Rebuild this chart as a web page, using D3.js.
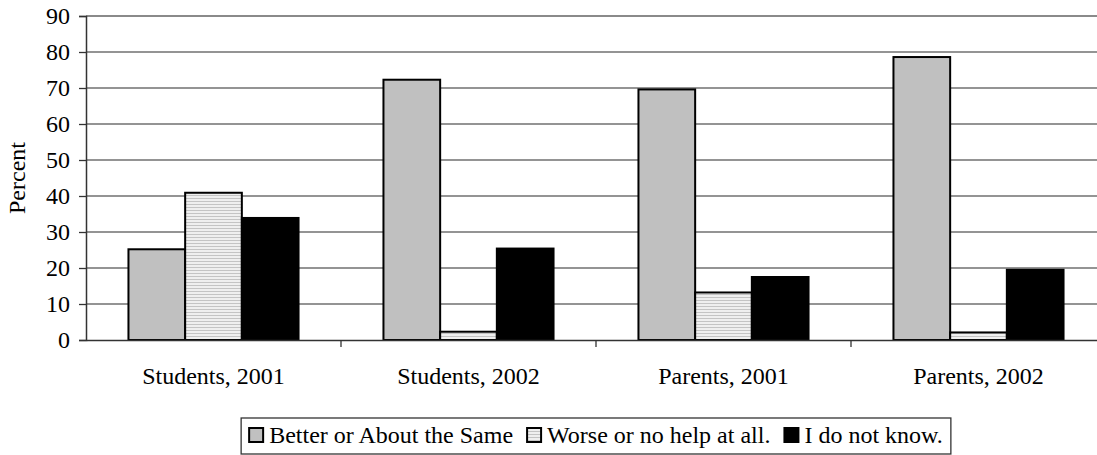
<!DOCTYPE html>
<html>
<head>
<meta charset="utf-8">
<script src="https://cdn.jsdelivr.net/npm/d3@7"></script>
<style>
  html, body { margin: 0; padding: 0; background: #fff; }
  svg { display: block; }
  svg text { font-family: 'Liberation Serif', 'Times New Roman', serif; }
</style>
</head>
<body>
<svg id="chart" width="1097" height="455"></svg>
<script>
// Survey groups along the x axis
const categories = ["Students, 2001", "Students, 2002", "Parents, 2001", "Parents, 2002"];
// Response series (percent)
const seriesNames = ["Better or About the Same", "Worse or no help at all.", "I do not know."];
const betterValues = [25.2, 72.3, 69.6, 78.6];
const worseValues = [40.9, 2.3, 13.2, 2.1];
const unknownValues = [33.9, 25.4, 17.5, 19.5];
const yTicks = [0, 10, 20, 30, 40, 50, 60, 70, 80, 90];

const seriesValues = [betterValues, worseValues, unknownValues];

const svg = d3.select("#chart");
const fontSize = 24;
const fontFamily = "'Liberation Serif', 'Times New Roman', serif";

const plot = { left: 86, right: 1106, top: 16, bottom: 340 };

const x = d3.scaleBand().domain(categories).range([plot.left, plot.right]).paddingInner(0).paddingOuter(0);
const groupWidth = x.bandwidth() * 0.667;
const xs = d3.scaleBand().domain(d3.range(seriesNames.length)).range([0, groupWidth]).padding(0);
const y = d3.scaleLinear().domain([0, 90]).range([plot.bottom, plot.top]);

// Horizontal stripe fill for the middle series
const defs = svg.append("defs");
const pat = defs.append("pattern")
  .attr("id", "stripes").attr("patternUnits", "userSpaceOnUse")
  .attr("width", 6).attr("height", 3);
pat.append("rect").attr("width", 6).attr("height", 3).attr("fill", "#efefef");
pat.append("rect").attr("y", 0).attr("width", 6).attr("height", 1).attr("fill", "#c4c4c4");

const fills = ["#c0c0c0", "url(#stripes)", "#000000"];

// Gridlines
svg.append("g")
  .selectAll("line")
  .data(yTicks.filter(t => t > 0))
  .join("line")
  .attr("x1", plot.left).attr("x2", plot.right)
  .attr("y1", d => y(d)).attr("y2", d => y(d))
  .attr("stroke", d => d === 90 ? "#8a8a8a" : "#2a2a2a")
  .attr("stroke-width", d => d === 90 ? 2 : 1.2);

// Bars
const groups = svg.append("g")
  .selectAll("g")
  .data(categories)
  .join("g")
  .attr("transform", d => `translate(${x(d) + (x.bandwidth() - groupWidth) / 2},0)`);

groups.selectAll("rect")
  .data((c, i) => seriesValues.map((vals, s) => ({ s, v: vals[i] })))
  .join("rect")
  .attr("x", d => xs(d.s))
  .attr("width", xs.bandwidth())
  .attr("y", d => y(d.v))
  .attr("height", d => y(0) - y(d.v))
  .attr("fill", d => fills[d.s])
  .attr("stroke", "#000")
  .attr("stroke-width", 2);

// Y axis
const yAxis = d3.axisLeft(y).tickValues(yTicks).tickSize(7).tickPadding(9).tickFormat(d3.format("d"));
const gy = svg.append("g").attr("transform", `translate(${plot.left},0)`).call(yAxis)
  .attr("font-family", null).attr("font-size", fontSize);
gy.select(".domain").attr("stroke", "#333").attr("stroke-width", 1.5);
gy.selectAll(".tick line").attr("stroke", "#333").attr("stroke-width", 1.3);
gy.selectAll("text").attr("fill", "#000").style("font-family", fontFamily);

// X axis: ticks at category boundaries
const xAxis = d3.axisBottom(x).tickSize(0).tickPadding(27);
const gx = svg.append("g").attr("transform", `translate(0,${plot.bottom})`).call(xAxis)
  .attr("font-family", null).attr("font-size", fontSize);
gx.select(".domain").attr("stroke", "#333").attr("stroke-width", 1.3);
gx.selectAll("text").attr("fill", "#000").style("font-family", fontFamily);
gx.append("g").selectAll("line")
  .data(categories.slice(1))
  .join("line")
  .attr("x1", d => x(d)).attr("x2", d => x(d))
  .attr("y1", 0).attr("y2", 7)
  .attr("stroke", "#333").attr("stroke-width", 1.3);

// Y axis title
svg.append("text")
  .attr("transform", `translate(25,${(plot.top + plot.bottom) / 2}) rotate(-90)`)
  .attr("text-anchor", "middle")
  .style("font-family", fontFamily)
  .attr("font-size", fontSize)
  .text("Percent");

// Legend
const legend = svg.append("g").attr("font-size", fontSize);
const legendBox = legend.append("rect")
  .attr("fill", "#fff").attr("stroke", "#333").attr("stroke-width", 1.3);
const items = legend.selectAll("g.item")
  .data(seriesNames)
  .join("g").attr("class", "item");
items.append("rect")
  .attr("width", 14).attr("height", 14)
  .attr("y", -15)
  .attr("fill", (d, i) => fills[i])
  .attr("stroke", "#000").attr("stroke-width", 2);
items.append("text")
  .attr("x", 20)
  .style("font-family", fontFamily)
  .text(d => d);

const gap = 14;
const widths = [];
items.each(function () {
  widths.push(20 + d3.select(this).select("text").node().getComputedTextLength());
});
const contentW = d3.sum(widths) + gap * (widths.length - 1);
const legendCenter = (plot.left + plot.right) / 2;
const baseline = 443;
const startX = legendCenter - contentW / 2;
items.attr("transform", (d, i) => `translate(${startX + d3.sum(widths.slice(0, i)) + gap * i},${baseline})`);
legendBox
  .attr("x", startX - 8)
  .attr("width", contentW + 16)
  .attr("y", 418)
  .attr("height", 36);
</script>
</body>
</html>
